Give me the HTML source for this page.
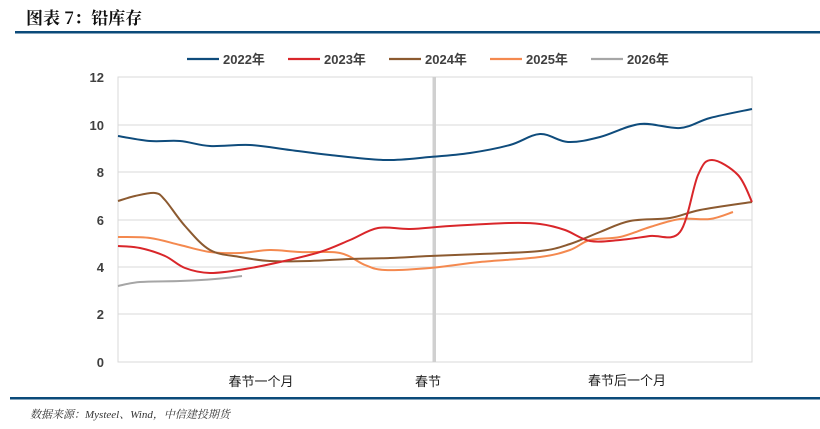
<!DOCTYPE html>
<html><head><meta charset="utf-8"><style>
body{margin:0;width:820px;height:424px;background:#fff;overflow:hidden;font-family:"Liberation Sans","Noto Sans CJK SC",sans-serif}
</style></head><body>
<svg width="820" height="424" xmlns="http://www.w3.org/2000/svg" id="s">
<text x="26" y="24" font-family="'Noto Serif CJK SC','Noto Sans CJK SC',serif" font-size="17" font-weight="bold" fill="#111">图表 7：铅库存</text>
<rect x="15" y="31" width="805" height="2.5" fill="#0b4a7a"/>
<g stroke="#d9d9d9" stroke-width="1">
<line x1="118" y1="125" x2="752" y2="125"/><line x1="118" y1="172" x2="752" y2="172"/>
<line x1="118" y1="220" x2="752" y2="220"/><line x1="118" y1="267" x2="752" y2="267"/>
<line x1="118" y1="314" x2="752" y2="314"/>
<rect x="118" y="77" width="634" height="285" fill="none"/>
</g>
<rect x="432.5" y="77" width="3.5" height="285" fill="#d0d0d0"/>
<g font-size="13" font-weight="bold" fill="#404040" text-anchor="end">
<text x="104" y="82">12</text><text x="104" y="130">10</text><text x="104" y="177">8</text>
<text x="104" y="225">6</text><text x="104" y="272">4</text><text x="104" y="319">2</text><text x="104" y="367">0</text>
</g>
<g font-size="13" fill="#222" text-anchor="middle">
<text x="261" y="386">春节一个月</text><text x="428" y="386">春节</text><text x="627" y="385">春节后一个月</text>
</g>
<g font-size="13" font-weight="bold" fill="#404040" stroke-width="2.2">
<line x1="187" y1="59" x2="219" y2="59" stroke="#0f4c7c"/><text x="223" y="64">2022年</text>
<line x1="288" y1="59" x2="320" y2="59" stroke="#d9262a"/><text x="324" y="64">2023年</text>
<line x1="389" y1="59" x2="421" y2="59" stroke="#8c5a30"/><text x="425" y="64">2024年</text>
<line x1="490" y1="59" x2="522" y2="59" stroke="#f4894f"/><text x="526" y="64">2025年</text>
<line x1="591" y1="59" x2="623" y2="59" stroke="#a6a6a6"/><text x="627" y="64">2026年</text>
</g>
<g id="lines" fill="none" stroke-width="2"></g>
<rect x="10" y="397" width="810" height="2.5" fill="#0b4a7a"/>
<text x="30" y="418" font-size="11" font-style="italic" fill="#333" font-family="'Liberation Serif','Noto Serif CJK SC',serif">数据来源：Mysteel、Wind，中信建投期货</text>
</svg>
<script>
var S={
"#0f4c7c":[[118,136],[150,141],[180,141],[210,146],[250,145],[290,150],[330,155],[385,160],[430,157],[470,153],[510,145],[540,134],[568,142],[600,137],[640,124],[680,128],[710,118],[752,109]],
"#d9262a":[[118,246],[140,248],[165,256],[185,268],[210,273],[245,269],[280,262],[320,252],[350,240],[378,228],[410,229],[450,226],[510,223],[540,224],[565,230],[590,241],[620,240],[650,236],[680,232],[698,175],[712,160],[738,175],[752,202]],
"#8c5a30":[[118,201],[135,196],[155,193],[165,200],[185,226],[210,250],[240,257],[270,261],[310,261],[350,259],[390,258],[430,256],[480,254],[540,251],[570,244],[600,232],[630,221],[670,218],[700,210],[752,202]],
"#f4894f":[[118,237],[150,238],[180,245],[210,252],[240,253],[270,250],[300,252],[340,253],[365,265],[385,270],[430,268],[480,262],[540,257],[570,250],[590,240],[620,237],[650,227],[680,219],[710,219],[733,212]],
"#a6a6a6":[[118,286],[140,282],[180,281],[215,279],[242,276]]};
var g=document.getElementById('lines'),order=["#a6a6a6","#f4894f","#8c5a30","#d9262a","#0f4c7c"];
order.forEach(function(c){var p=S[c],d="M"+p[0];for(var i=0;i<p.length-1;i++){var a=p[i-1]||p[i],b=p[i],e=p[i+1],f=p[i+2]||e;
d+=" C"+(b[0]+(e[0]-a[0])/6)+","+(b[1]+(e[1]-a[1])/6)+" "+(e[0]-(f[0]-b[0])/6)+","+(e[1]-(f[1]-b[1])/6)+" "+e;}
var el=document.createElementNS("http://www.w3.org/2000/svg","path");el.setAttribute("d",d);el.setAttribute("stroke",c);g.appendChild(el);});
</script>
</body></html>
